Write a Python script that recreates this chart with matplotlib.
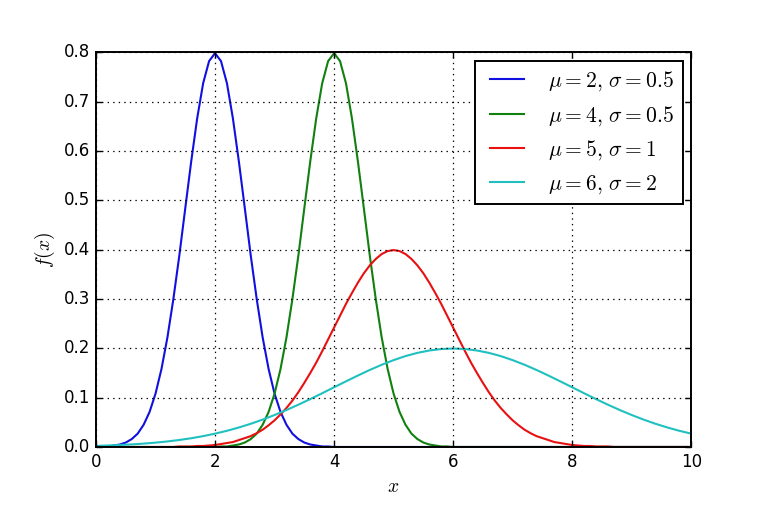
import matplotlib
matplotlib.use("Agg")
import matplotlib.pyplot as plt
import numpy as np

plt.style.use('classic')
plt.rcParams['mathtext.fontset'] = 'cm'
plt.rcParams['font.family'] = ['DejaVu Sans']

# sampling grids
x_fine = np.round(np.arange(0, 101) * 0.1, 1)   # 0.0 .. 10.0
x_coarse = np.round(np.arange(0, 51) * 0.2, 1)  # 0.0 .. 10.0

blue_peak = [0.000, 0.001, 0.001, 0.003, 0.005, 0.009, 0.016, 0.027, 0.045, 0.071,
             0.108, 0.158, 0.222, 0.300, 0.388, 0.484, 0.579, 0.666, 0.737, 0.782,
             0.798,
             0.782, 0.737, 0.666, 0.579, 0.484, 0.388, 0.300, 0.222, 0.158, 0.108,
             0.071, 0.045, 0.027, 0.016, 0.009, 0.005, 0.003, 0.001, 0.001, 0.000]

y_mu2 = blue_peak + [0.0] * 60
y_mu4 = [0.0] * 20 + blue_peak + [0.0] * 40

y_mu5 = [0.000, 0.000, 0.000, 0.000, 0.000, 0.000, 0.000, 0.000, 0.000, 0.000,
         0.000, 0.000, 0.000, 0.000, 0.001, 0.001, 0.001, 0.002, 0.002, 0.003,
         0.004, 0.006, 0.008, 0.010, 0.014, 0.018, 0.022, 0.028, 0.035, 0.044,
         0.054, 0.066, 0.079, 0.094, 0.111, 0.130, 0.150, 0.171, 0.194, 0.218,
         0.242, 0.266, 0.290, 0.312, 0.333, 0.352, 0.368, 0.381, 0.391, 0.397,
         0.399,
         0.397, 0.391, 0.381, 0.368, 0.352, 0.333, 0.312, 0.290, 0.266, 0.242,
         0.218, 0.194, 0.171, 0.150, 0.130, 0.111, 0.094, 0.079, 0.066, 0.054,
         0.044, 0.035, 0.028, 0.022, 0.018, 0.014, 0.010, 0.008, 0.006, 0.004,
         0.003, 0.002, 0.002, 0.001, 0.001, 0.001, 0.000, 0.000, 0.000, 0.000,
         0.000, 0.000, 0.000, 0.000, 0.000, 0.000, 0.000, 0.000, 0.000, 0.000]

y_mu6 = [0.0022, 0.0030, 0.0040, 0.0052, 0.0068, 0.0088, 0.0112, 0.0142, 0.0177, 0.0220,
         0.0270, 0.0328, 0.0395, 0.0470, 0.0555, 0.0648, 0.0749, 0.0857, 0.0971, 0.1089,
         0.1210, 0.1330, 0.1448, 0.1561, 0.1666, 0.1760, 0.1842, 0.1907, 0.1955, 0.1985,
         0.1995,
         0.1985, 0.1955, 0.1907, 0.1842, 0.1760, 0.1666, 0.1561, 0.1448, 0.1330, 0.1210,
         0.1089, 0.0971, 0.0857, 0.0749, 0.0648, 0.0555, 0.0470, 0.0395, 0.0328, 0.0270]

labels = [r'$\mu=2,\,\sigma=0.5$', r'$\mu=4,\,\sigma=0.5$',
          r'$\mu=5,\,\sigma=1$', r'$\mu=6,\,\sigma=2$']

fig = plt.figure(figsize=(7.68, 5.12), facecolor='white')
ax = fig.add_axes([0.125, 0.127, 0.775, 0.771])
lw = 1.5
ax.plot(x_fine, y_mu2, color='#1010e0', lw=lw, label=labels[0])
ax.plot(x_fine, y_mu4, color='#108010', lw=lw, label=labels[1])
ax.plot(x_fine, y_mu5, color='#e81010', lw=lw, label=labels[2])
ax.plot(x_coarse, y_mu6, color='#20c0c0', lw=lw, label=labels[3])

ax.set_xlim(0, 10)
ax.set_ylim(0, 0.8)
ax.grid(True, color='black', linestyle=':', linewidth=0.9)
for s in ax.spines.values():
    s.set_linewidth(1.4)
ax.set_xlabel(r'$x$', fontsize=14)
ax.set_ylabel(r'$f(x)$', fontsize=14)
ax.tick_params(labelsize=12, width=1.0)
leg = ax.legend(loc='upper right', fontsize=15.5, handlelength=2.2,
                borderaxespad=0.4)
leg.get_frame().set_linewidth(1.4)

fig.savefig('out.png', dpi=100, facecolor='white')
